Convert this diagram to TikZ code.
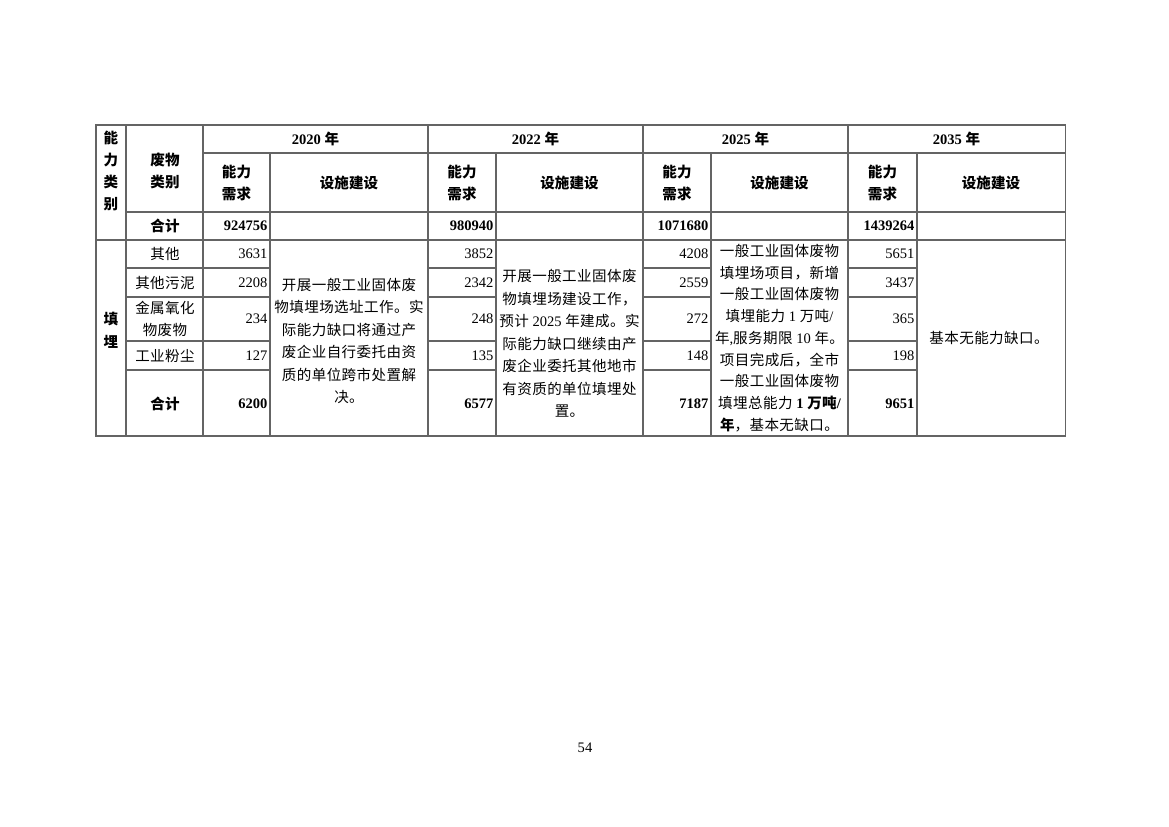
\documentclass[tikz,border=0pt]{standalone}
\usepackage{fontspec}
\setmainfont{Liberation Serif}
\newfontfamily\zh{Noto Sans CJK SC}[LetterSpace=3]
\newfontfamily\zhh{Noto Sans CJK SC}
\definecolor{rule}{RGB}{100,100,100}

\begin{document}
\begin{tikzpicture}[
    x = 0.254mm, y = -0.254mm,
    grid/.style = {draw=rule, line width=0.75pt},
    head/.style = {font=\zhh\bfseries\fontsize{10.5}{15.3}\selectfont, align=center, inner sep=0pt},
    cell/.style = {font=\zh\fontsize{10.5}{15.3}\selectfont, align=center, inner sep=0pt},
    plan/.style = {cell, font=\zh\fontsize{10.5}{16.3}\selectfont},
    num/.style = {font=\fontsize{10.5}{12}\selectfont, anchor=east, inner sep=1pt},
    bnum/.style = {num, font=\bfseries\fontsize{10.5}{12}\selectfont},
  ]
  \useasboundingbox (0,0) rectangle (1169,826);

  % frame and full lines
  \draw[grid] (96,125) rectangle (1065,436);
  \draw[grid, line width=1pt] (96,240) -- (1065,240);
  \draw[grid] (126,212) -- (1065,212);
  \foreach \x in {126,203} \draw[grid] (\x,125) -- (\x,436);

  % one block per year
  \foreach \l/\m/\r/\yr in {203/270/428/2020, 428/496/643/2022, 643/711/848/2025, 848/917/1065/2035} {
    \draw[grid] (\l,153) -- (\r,153);
    \draw[grid] (\r,125) -- (\r,436);
    \draw[grid] (\m,153) -- (\m,436);
    \foreach \y in {268,297,341,370} \draw[grid] (\l,\y) -- (\m,\y);
    \node[head] (y\yr) at ({(\l+\r)/2},139) {\rmfamily\bfseries\yr{} {\zhh 年}};
    \node[head] (d\yr) at ({(\l+\m)/2},183) {能力\\需求};
    \node[head] (s\yr) at ({(\m+\r)/2},183) {设施建设};
  }
  \foreach \y in {268,297,341,370} \draw[grid] (126,\y) -- (203,\y);

  % left headers
  \node[head, font=\zhh\bfseries\fontsize{10.5}{15.8}\selectfont] (kind) at (111,171) {能\\力\\类\\别};
  \node[head] (waste) at (165,171) {废物\\类别};
  \node[head] (total) at (165,226) {合计};
  \node[head, font=\zhh\bfseries\fontsize{10.5}{16.5}\selectfont] (fill) at (111,330) {填\\埋};

  % waste kinds
  \node[cell] (k1) at (165,254) {其他};
  \node[cell] (k2) at (165,282.5) {其他污泥};
  \node[cell] (k3) at (165,319) {金属氧化\\物废物};
  \node[cell] (k4) at (165,355.5) {工业粉尘};
  \node[head] (k5) at (165,404) {合计};

  % demand values
  \foreach \m/\a/\b/\c/\d/\e/\t in {270/3631/2208/234/127/6200/924756,
      496/3852/2342/248/135/6577/980940, 711/4208/2559/272/148/7187/1071680,
      917/5651/3437/365/198/9651/1439264} {
    \node[bnum] (t\m) at (\m-1,226) {\t};
    \node[num] (a\m) at (\m-1,254) {\a};
    \node[num] (b\m) at (\m-1,282.5) {\b};
    \node[num] (c\m) at (\m-1,319) {\c};
    \node[num] (d\m) at (\m-1,355.5) {\d};
    \node[bnum] (e\m) at (\m-1,404) {\e};
  }

  % facility plans
  \node[plan] (p2020) at (349,341) {开展一般工业固体废\\物填埋场选址工作。实\\际能力缺口将通过产\\废企业自行委托由资\\质的单位跨市处置解\\决。};
  \node[plan] (p2022) at (569.5,343.5) {开展一般工业固体废\\物填埋场建设工作，\\预计 {\rmfamily 2025} 年建成。实\\际能力缺口继续由产\\废企业委托其他地市\\有资质的单位填埋处\\置。};
  \node[plan, font=\zh\fontsize{10.5}{15.7}\selectfont] (p2025) at (779.5,338) {一般工业固体废物\\填埋场项目，新增\\一般工业固体废物\\填埋能力 {\rmfamily 1} 万吨{\rmfamily /}\\年{\rmfamily ,}服务期限 {\rmfamily 10} 年。\\项目完成后，全市\\一般工业固体废物\\填埋总能力 {\rmfamily\bfseries 1} {\bfseries 万吨}{\rmfamily\bfseries /}\\{\bfseries 年}，基本无缺口。};
  \node[plan] (p2035) at (989,338) {基本无能力缺口。};

  \node[font=\fontsize{10.5}{12}\selectfont] (page) at (585,748) {54};
\end{tikzpicture}
\end{document}
